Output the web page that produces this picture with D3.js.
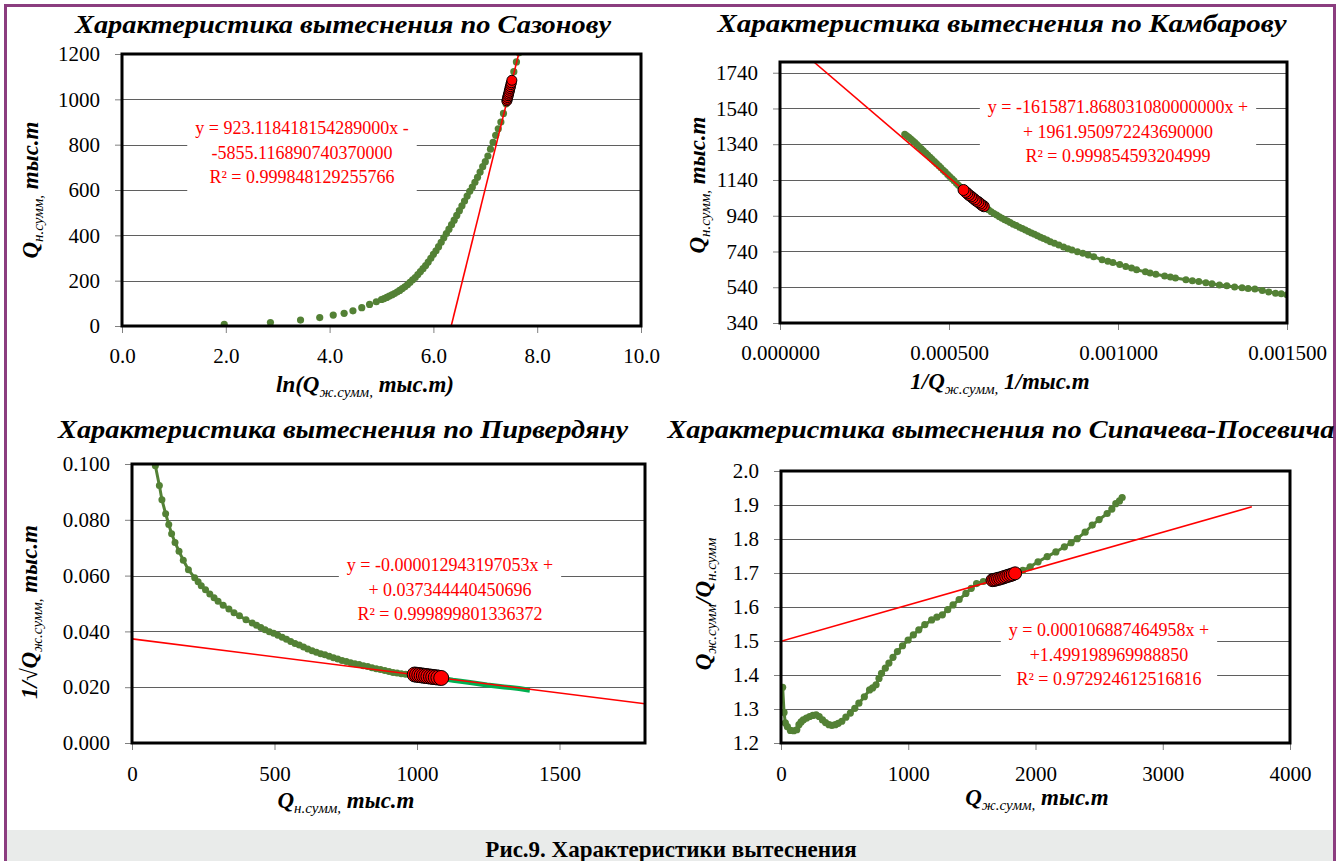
<!DOCTYPE html>
<html>
<head>
<meta charset="utf-8">
<script src="https://cdn.jsdelivr.net/npm/d3@7"></script>
<style>
body { margin: 0; background: #fff; }
svg { display: block; font-family: "Liberation Serif", "Times New Roman", serif; }
</style>
</head>
<body>
<svg id="chart" width="1342" height="861"></svg>
<script>
// ---------------- DATA ----------------
// Sazonov: ln(Qж) vs Qн  (markers only)
var sazonovX = [1.97, 2.86, 3.44, 3.81, 4.07, 4.28, 4.45, 4.62, 4.77, 4.90, 5.00, 5.05, 5.10, 5.15, 5.20, 5.25, 5.30, 5.35, 5.40, 5.45, 5.50, 5.55, 5.60, 5.65, 5.70, 5.75, 5.80, 5.85, 5.90, 5.95, 6.00, 6.05, 6.10, 6.15, 6.20, 6.25, 6.30, 6.35, 6.40, 6.45, 6.50, 6.55, 6.60, 6.65, 6.70, 6.75, 6.80, 6.85, 6.90, 6.95, 7.00, 7.05, 7.10, 7.15, 7.20, 7.25, 7.30, 7.35, 7.40, 7.45, 7.50, 7.55, 7.60, 7.65, 7.70, 7.75, 7.80, 7.85, 7.89];
var sazonovY = [7, 15, 26, 37, 48, 56, 67, 81, 95, 107, 117, 121, 126, 132, 137, 143, 150, 157, 165, 173, 182, 193, 204, 214, 227, 240, 253, 267, 282, 299, 316, 332, 350, 369, 389, 408, 427, 447, 467, 488, 509, 530, 551, 573, 594, 613, 634, 656, 679, 703, 725, 750, 780, 810, 841, 870, 900, 938, 980, 1025, 1075, 1122, 1165, 1205, 1248, 1290, 1330, 1365, 1396];
var sazonovFitX = [7.415, 7.423, 7.431, 7.440, 7.448, 7.457, 7.466, 7.474, 7.483, 7.492, 7.501, 7.512];
var sazonovFitY = [993, 1000, 1008, 1016, 1023, 1031, 1040, 1048, 1056, 1065, 1073, 1084];
var sazonovTrendX = [6.343, 7.643];
var sazonovTrendY = [0, 1200];
var sazonovXTicks = [0, 2, 4, 6, 8, 10];
var sazonovYTicks = [0, 200, 400, 600, 800, 1000, 1200];
var sazonovLabel = ["y = 923.118418154289000x -", "-5855.116890740370000", "R² = 0.999848129255766"];

// Kambarov: 1/Qж vs Qн
var kambarovX = [0.000369, 0.000375, 0.000381, 0.000387, 0.000393, 0.000399, 0.000405, 0.000411, 0.000418, 0.000424, 0.000431, 0.000437, 0.000444, 0.000450, 0.000457, 0.000463, 0.000470, 0.000476, 0.000483, 0.000489, 0.000496, 0.000502, 0.000509, 0.000515, 0.000522, 0.000528, 0.000535, 0.000543, 0.000573, 0.000603, 0.000610, 0.000617, 0.000625, 0.000633, 0.000641, 0.000649, 0.000657, 0.000665, 0.000673, 0.000681, 0.000690, 0.000699, 0.000708, 0.000717, 0.000726, 0.000735, 0.000744, 0.000753, 0.000762, 0.000771, 0.000780, 0.000790, 0.000800, 0.000812, 0.000825, 0.000839, 0.000852, 0.000864, 0.000880, 0.000896, 0.000912, 0.000928, 0.000953, 0.000970, 0.000985, 0.001005, 0.001023, 0.001040, 0.001055, 0.001081, 0.001095, 0.001112, 0.001138, 0.001155, 0.001170, 0.001201, 0.001220, 0.001239, 0.001260, 0.001278, 0.001300, 0.001322, 0.001345, 0.001367, 0.001385, 0.001405, 0.001427, 0.001446, 0.001466, 0.001483, 0.001500, 0.001540];
var kambarovY = [1396, 1388, 1379, 1369, 1359, 1349, 1338, 1327, 1315, 1304, 1291, 1280, 1267, 1256, 1243, 1232, 1219, 1208, 1195, 1184, 1171, 1160, 1147, 1136, 1122, 1111, 1098, 1083, 1037, 993, 983, 973, 963, 953, 944, 935, 926, 918, 910, 902, 893, 885, 876, 868, 860, 852, 844, 836, 828, 820, 812, 804, 795, 786, 776, 765, 756, 748, 739, 730, 720, 711, 694, 686, 678, 667, 656, 647, 638, 626, 619, 613, 603, 597, 592, 582, 577, 572, 565, 559, 553, 548, 542, 537, 533, 530, 522, 514, 507, 503, 498, 490];
var kambarovFitX = [0.000603, 0.000597, 0.000592, 0.000587, 0.000581, 0.000576, 0.000570, 0.000565, 0.000559, 0.000554, 0.000549, 0.000543];
var kambarovFitY = [993, 1000, 1008, 1016, 1023, 1031, 1040, 1048, 1056, 1065, 1073, 1084];
var kambarovTrendX = [0.0001002, 0.0006];
var kambarovTrendY = [1800, 992];
var kambarovXTicks = [0, 0.0005, 0.001, 0.0015];
var kambarovYTicks = [340, 540, 740, 940, 1140, 1340, 1540, 1740];
var kambarovLabel = ["y = -1615871.868031080000000x +", "+ 1961.950972243690000", "R² = 0.999854593204999"];

// Pirverdyan: Qн vs 1/sqrt(Qж)
var pirverdyanX = [82, 96, 105, 118, 129, 139, 151, 165, 180, 198, 220, 232, 243, 258, 273, 288, 302, 320, 340, 358, 377, 400, 422, 437, 452, 467, 482, 497, 512, 527, 542, 557, 572, 587, 602, 617, 632, 647, 662, 677, 692, 707, 722, 737, 752, 767, 782, 797, 812, 827, 842, 857, 872, 887, 902, 916, 930, 945, 960, 975, 992];
var pirverdyanY = [0.0994, 0.0923, 0.0872, 0.0822, 0.0783, 0.0750, 0.0719, 0.0687, 0.0655, 0.0621, 0.0592, 0.0578, 0.0564, 0.0549, 0.0534, 0.0521, 0.0508, 0.0494, 0.0480, 0.0467, 0.0456, 0.0442, 0.0430, 0.0422, 0.0414, 0.0406, 0.0399, 0.0393, 0.0386, 0.0379, 0.0372, 0.0364, 0.0357, 0.0351, 0.0344, 0.0337, 0.0331, 0.0325, 0.0320, 0.0316, 0.0311, 0.0306, 0.0301, 0.0296, 0.0292, 0.0288, 0.0284, 0.0281, 0.0277, 0.0274, 0.0270, 0.0266, 0.0263, 0.0260, 0.0256, 0.0253, 0.0251, 0.0248, 0.0246, 0.0245, 0.0244];
var pirverdyanTailX = [992, 1040, 1089, 1126, 1186, 1246, 1306, 1358, 1396];
var pirverdyanTailY = [0.0244, 0.0237, 0.0231, 0.0225, 0.0217, 0.0208, 0.0201, 0.0195, 0.0189];
var pirverdyanFitX = [992, 1000, 1008, 1016, 1024, 1032, 1040, 1049, 1057, 1066, 1075, 1085];
var pirverdyanFitY = [0.02455, 0.02444, 0.02433, 0.02422, 0.02411, 0.02400, 0.02389, 0.02378, 0.02367, 0.02356, 0.02344, 0.02331];
var pirverdyanTrendX = [0, 1800];
var pirverdyanTrendY = [0.03734, 0.01405];
var pirverdyanXTicks = [0, 500, 1000, 1500];
var pirverdyanYTicks = [0, 0.02, 0.04, 0.06, 0.08, 0.1];
var pirverdyanLabel = ["y = -0.000012943197053x +", "+ 0.037344440450696", "R² = 0.999899801336372"];

// Sipacheva-Posevich: Qж vs Qж/Qн
var sipachevX = [13, 24, 34, 50, 74, 100, 124, 141, 158, 175, 200, 225, 250, 276, 300, 326, 350, 377, 400, 427, 450, 478, 510, 545, 580, 612, 655, 696, 720, 747, 770, 790, 820, 848, 880, 915, 955, 999, 1040, 1083, 1130, 1184, 1225, 1268, 1310, 1352, 1400, 1453, 1495, 1537, 1590, 1638, 1662, 1840, 1900, 1958, 2020, 2092, 2160, 2227, 2280, 2328, 2390, 2446, 2500, 2563, 2600, 2631, 2660, 2681];
var sipachevY = [1.364, 1.290, 1.259, 1.248, 1.237, 1.236, 1.239, 1.254, 1.262, 1.268, 1.273, 1.278, 1.281, 1.283, 1.278, 1.268, 1.260, 1.254, 1.252, 1.254, 1.258, 1.264, 1.276, 1.288, 1.302, 1.317, 1.336, 1.356, 1.362, 1.371, 1.390, 1.405, 1.420, 1.435, 1.452, 1.469, 1.486, 1.503, 1.518, 1.533, 1.548, 1.562, 1.570, 1.577, 1.592, 1.606, 1.622, 1.640, 1.655, 1.669, 1.675, 1.679, 1.679, 1.699, 1.708, 1.718, 1.733, 1.748, 1.762, 1.777, 1.789, 1.801, 1.820, 1.841, 1.857, 1.875, 1.888, 1.904, 1.912, 1.922];
var sipachevFitX = [1662, 1676, 1690, 1706, 1722, 1738, 1754, 1770, 1787, 1804, 1821, 1840];
var sipachevFitY = [1.679, 1.680, 1.681, 1.683, 1.684, 1.686, 1.688, 1.690, 1.692, 1.694, 1.696, 1.699];
var sipachevTrendX = [0, 3700];
var sipachevTrendY = [1.4992, 1.8947];
var sipachevXTicks = [0, 1000, 2000, 3000, 4000];
var sipachevYTicks = [1.2, 1.3, 1.4, 1.5, 1.6, 1.7, 1.8, 1.9, 2.0];
var sipachevLabel = ["y = 0.000106887464958x +", "+1.499198969988850", "R² = 0.972924612516816"];

var GREEN = "#538135";
var BRIGHT = "#00b050";
var RED = "#ff0000";
var SERIF = "'Liberation Serif', 'Times New Roman', serif";

var svg = d3.select("#chart");

// outer frame and caption band
svg.append("rect").attr("x", 7).attr("y", 830).attr("width", 1327).attr("height", 40).attr("fill", "#e9ebea");
svg.append("rect").attr("x", 5.5).attr("y", 5.5).attr("width", 1329).attr("height", 900)
    .attr("fill", "none").attr("stroke", "#8b3d7f").attr("stroke-width", 3);
svg.append("text").attr("x", 671).attr("y", 857).attr("text-anchor", "middle")
    .attr("font-size", 23).attr("font-weight", "bold").text("Рис.9. Характеристики вытеснения");

function zip(a, b) {
    return a.map(function(v, i) { return [v, b[i]]; });
}

// text made of parts (bold / subscript)
function richText(g, parts, size, subSize) {
    parts.forEach(function(p) {
        var t = g.append("tspan").text(p.t).attr("font-style", "italic");
        if (p.sub) {
            t.attr("font-size", subSize).attr("dy", 5);
        } else {
            t.attr("font-size", size).attr("font-weight", "bold");
            if (p.up) t.attr("dy", -5);
        }
    });
}

function drawPanel(c) {
    var g = svg.append("g");
    var x = d3.scaleLinear().domain(c.xDomain).range([c.left, c.right]);
    var y = d3.scaleLinear().domain(c.yDomain).range([c.bottom, c.top]);
    var clipId = "clip" + c.id;

    g.append("clipPath").attr("id", clipId).append("rect")
        .attr("x", c.left).attr("y", c.top)
        .attr("width", c.right - c.left).attr("height", c.bottom - c.top);

    // gridlines
    g.selectAll(".grid").data(c.yTicks).enter().append("line")
        .attr("x1", c.left).attr("x2", c.right)
        .attr("y1", function(d) { return Math.round(y(d)) + 0.5; })
        .attr("y2", function(d) { return Math.round(y(d)) + 0.5; })
        .attr("stroke", "#5f5f5f").attr("stroke-width", 1);

    // axes
    var ya = g.append("g").attr("transform", "translate(" + c.left + ",0)")
        .call(d3.axisLeft(y).tickValues(c.yTicks).tickFormat(c.yFormat).tickSize(7).tickPadding(15));
    var xa = g.append("g").attr("transform", "translate(0," + c.bottom + ")")
        .call(d3.axisBottom(x).tickValues(c.xTicks).tickFormat(c.xFormat).tickSize(7).tickPadding(c.xPad));
    [ya, xa].forEach(function(a) {
        a.attr("font-family", null).attr("font-size", null);
        a.select(".domain").remove();
        a.selectAll("line").attr("stroke", "#808080");
        a.selectAll("text").style("font-family", SERIF).style("font-size", "21px").attr("fill", "#000");
    });

    var plot = g.append("g").attr("clip-path", "url(#" + clipId + ")");
    var line = d3.line().x(function(d) { return x(d[0]); }).y(function(d) { return y(d[1]); });

    // data series
    if (c.withLine) {
        plot.append("path").datum(zip(c.gx, c.gy)).attr("d", line)
            .attr("fill", "none").attr("stroke", GREEN).attr("stroke-width", 3);
    }
    plot.selectAll(".gp").data(zip(c.gx, c.gy)).enter().append("circle")
        .attr("cx", function(d) { return x(d[0]); }).attr("cy", function(d) { return y(d[1]); })
        .attr("r", c.greenR).attr("fill", GREEN);
    if (c.tx) {
        plot.append("path").datum(zip(c.tx, c.ty)).attr("d", line)
            .attr("fill", "none").attr("stroke", BRIGHT).attr("stroke-width", 5);
    }
    // trend line
    plot.append("path").datum(zip(c.trX, c.trY)).attr("d", line)
        .attr("fill", "none").attr("stroke", RED).attr("stroke-width", 1.6);
    // fitted points
    plot.selectAll(".rp").data(zip(c.fx, c.fy)).enter().append("circle")
        .attr("cx", function(d) { return x(d[0]); }).attr("cy", function(d) { return y(d[1]); })
        .attr("r", c.redR).attr("fill", RED).attr("stroke", "#000").attr("stroke-width", 1);

    // trend label
    var lg = g.append("g");
    var box = lg.append("rect").attr("fill", "#fff");
    var lt = lg.append("text").attr("text-anchor", "middle").attr("font-size", 18).attr("fill", RED);
    c.label.forEach(function(s, i) {
        lt.append("tspan").attr("x", c.labelX).attr("y", c.labelY + i * 24.5).text(s);
    });
    var bb = lt.node().getBBox();
    box.attr("x", bb.x - 8).attr("y", bb.y - 6).attr("width", bb.width + 16).attr("height", bb.height + 10);

    // plot frame
    g.append("rect").attr("x", c.left).attr("y", c.top)
        .attr("width", c.right - c.left).attr("height", c.bottom - c.top)
        .attr("fill", "none").attr("stroke", "#000").attr("stroke-width", 3);

    // titles
    g.append("text").attr("x", c.titleX).attr("y", c.titleY).attr("text-anchor", "middle")
        .attr("font-size", 26).attr("font-weight", "bold").attr("font-style", "italic")
        .attr("textLength", c.titleW).attr("lengthAdjust", "spacingAndGlyphs")
        .text(c.title);
    var xt = g.append("text").attr("x", c.xTitleX).attr("y", c.xTitleY).attr("text-anchor", "middle");
    richText(xt, c.xTitle, 23, 15);
    var yt = g.append("text").attr("text-anchor", "middle")
        .attr("transform", "translate(" + c.yTitleX + "," + c.yTitleY + ") rotate(-90)");
    richText(yt, c.yTitle, 23, 15);
}

drawPanel({
    id: 1, left: 122, right: 641, top: 54, bottom: 326,
    xDomain: [0, 10], yDomain: [0, 1200],
    xTicks: sazonovXTicks, yTicks: sazonovYTicks,
    xFormat: d3.format(".1f"), yFormat: d3.format("d"), xPad: 15,
    gx: sazonovX, gy: sazonovY, withLine: false, greenR: 3.6,
    fx: sazonovFitX, fy: sazonovFitY,
    trX: sazonovTrendX, trY: sazonovTrendY, redR: 5,
    label: sazonovLabel, labelX: 302, labelY: 134,
    title: "Характеристика вытеснения по Сазонову", titleX: 343, titleY: 33, titleW: 536,
    xTitle: [{t: "ln(Q"}, {t: "ж.сумм,", sub: true}, {t: " тыс.т)", up: true}], xTitleX: 365, xTitleY: 392,
    yTitle: [{t: "Q"}, {t: "н.сумм,", sub: true}, {t: " тыс.т", up: true}], yTitleX: 38, yTitleY: 190
});

drawPanel({
    id: 2, left: 780, right: 1287, top: 62, bottom: 323,
    xDomain: [0, 0.0015], yDomain: [340, 1800],
    xTicks: kambarovXTicks, yTicks: kambarovYTicks,
    xFormat: d3.format(".6f"), yFormat: d3.format("d"), xPad: 15,
    gx: kambarovX, gy: kambarovY, withLine: true, greenR: 3.5,
    fx: kambarovFitX, fy: kambarovFitY,
    trX: kambarovTrendX, trY: kambarovTrendY, redR: 5.5,
    label: kambarovLabel, labelX: 1118, labelY: 113,
    title: "Характеристика вытеснения по Камбарову", titleX: 1002, titleY: 32, titleW: 569,
    xTitle: [{t: "1/Q"}, {t: "ж.сумм,", sub: true}, {t: " 1/тыс.т", up: true}], xTitleX: 1000, xTitleY: 389,
    yTitle: [{t: "Q"}, {t: "н.сумм,", sub: true}, {t: " тыс.т", up: true}], yTitleX: 705, yTitleY: 185
});

drawPanel({
    id: 3, left: 132, right: 645, top: 464, bottom: 743,
    xDomain: [0, 1800], yDomain: [0, 0.1],
    xTicks: pirverdyanXTicks, yTicks: pirverdyanYTicks,
    xFormat: d3.format("d"), yFormat: d3.format(".3f"), xPad: 16,
    gx: pirverdyanX, gy: pirverdyanY, withLine: true, greenR: 3.5,
    tx: pirverdyanTailX, ty: pirverdyanTailY,
    fx: pirverdyanFitX, fy: pirverdyanFitY,
    trX: pirverdyanTrendX, trY: pirverdyanTrendY, redR: 7.5,
    label: pirverdyanLabel, labelX: 450, labelY: 571,
    title: "Характеристика вытеснения по Пирвердяну", titleX: 343, titleY: 438, titleW: 570,
    xTitle: [{t: "Q"}, {t: "н.сумм,", sub: true}, {t: " тыс.т", up: true}], xTitleX: 346, xTitleY: 808,
    yTitle: [{t: "1/√Q"}, {t: "ж.сумм,", sub: true}, {t: " тыс.т", up: true}], yTitleX: 37, yTitleY: 612
});

drawPanel({
    id: 4, left: 781, right: 1290, top: 471, bottom: 743,
    xDomain: [0, 4000], yDomain: [1.2, 2.0],
    xTicks: sipachevXTicks, yTicks: sipachevYTicks,
    xFormat: d3.format("d"), yFormat: d3.format(".1f"), xPad: 16,
    gx: sipachevX, gy: sipachevY, withLine: true, greenR: 3.6,
    fx: sipachevFitX, fy: sipachevFitY,
    trX: sipachevTrendX, trY: sipachevTrendY, redR: 6.5,
    label: sipachevLabel, labelX: 1109, labelY: 636,
    title: "Характеристика вытеснения по Сипачева-Посевича", titleX: 1001, titleY: 438, titleW: 667,
    xTitle: [{t: "Q"}, {t: "ж.сумм,", sub: true}, {t: " тыс.т", up: true}], xTitleX: 1037, xTitleY: 805,
    yTitle: [{t: "Q"}, {t: "ж.сумм", sub: true}, {t: "/Q", up: true}, {t: "н.сумм", sub: true}], yTitleX: 711, yTitleY: 604
});
</script>
</body>
</html>
